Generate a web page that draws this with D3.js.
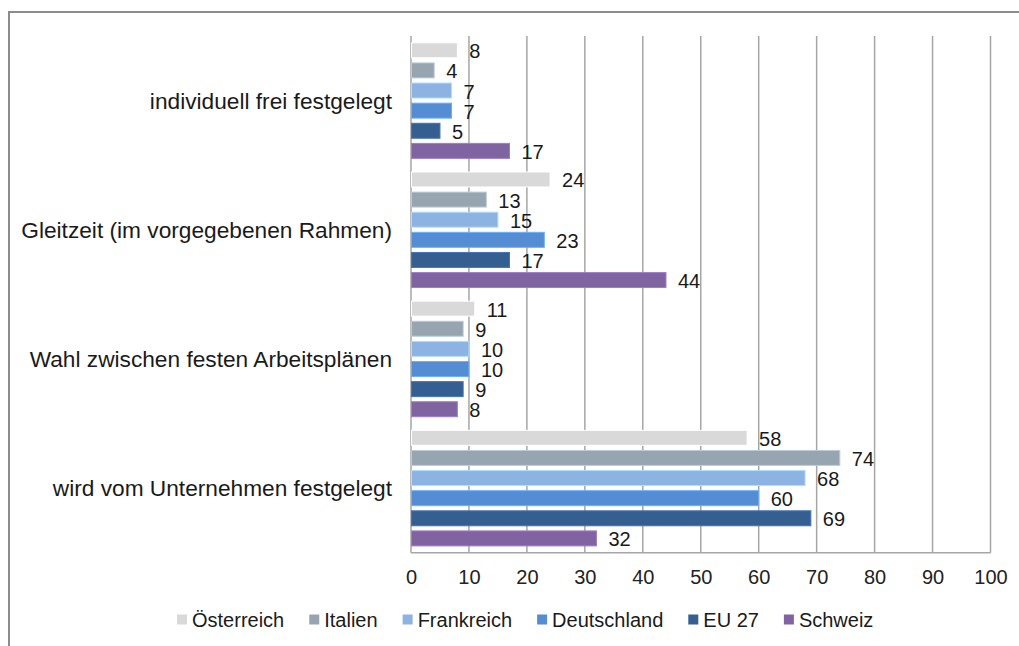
<!DOCTYPE html>
<html><head><meta charset="utf-8">
<script src="https://cdn.jsdelivr.net/npm/d3@7"></script>
<style>body{margin:0;background:#fff}svg{display:block;font-family:"Liberation Sans",Arial,sans-serif}</style>
</head><body>
<svg id="c" width="1019" height="646"></svg>
<script>
const categories = ["individuell frei festgelegt","Gleitzeit (im vorgegebenen Rahmen)","Wahl zwischen festen Arbeitsplänen","wird vom Unternehmen festgelegt"];
const seriesNames = ["Österreich","Italien","Frankreich","Deutschland","EU 27","Schweiz"];
const seriesColors = ["#d9d9d9","#97a5b1","#8db3e2","#548dd4","#365f91","#8064a2"];
const oesterreich = [8,24,11,58];
const italien = [4,13,9,74];
const frankreich = [7,15,10,68];
const deutschland = [7,23,10,60];
const eu27 = [5,17,9,69];
const schweiz = [17,44,8,32];
const xTicks = [0,10,20,30,40,50,60,70,80,90,100];
const seriesValues = [oesterreich,italien,frankreich,deutschland,eu27,schweiz];

const svg = d3.select("#c");
// frame
svg.append("rect").attr("x",9).attr("y",12).attr("width",1100).attr("height",700)
  .attr("fill","none").attr("stroke","#8c8c8c").attr("stroke-width",2);

const L=411, R=990.5, T=36, B=552.7;
const x = d3.scaleLinear().domain([0,100]).range([L,R]);
const y0 = d3.scaleBand().domain(categories).range([T,B]).paddingInner(0).paddingOuter(0);
const y1 = d3.scaleBand().domain(seriesNames).range([6.8, y0.bandwidth()-6.8]).paddingInner(0.255).paddingOuter(0);

// gridlines
svg.append("g").selectAll("line").data(xTicks).join("line")
  .attr("x1",d=>x(d)).attr("x2",d=>x(d)).attr("y1",T).attr("y2",B)
  .attr("stroke","#a6a6a6").attr("stroke-width",1.5);
// bottom axis line
svg.append("line").attr("x1",L).attr("x2",R).attr("y1",B).attr("y2",B).attr("stroke","#a6a6a6").attr("stroke-width",1.5);

// axis tick labels
const ax = d3.axisBottom(x).tickValues(xTicks).tickSize(0).tickPadding(0);
const gAx = svg.append("g").attr("transform",`translate(0,${B})`).call(ax);
gAx.select(".domain").remove();
gAx.selectAll("text").attr("font-size",20).attr("fill","#222").attr("font-family","Liberation Sans, Arial, sans-serif")
  .attr("dy",null).attr("y",31);

// bars
const groups = svg.append("g").selectAll("g").data(categories).join("g")
  .attr("transform",d=>`translate(0,${y0(d)})`);
groups.each(function(cat,ci){
  const g=d3.select(this);
  const rows = seriesNames.map((s,si)=>({s,si,v:seriesValues[si][ci]}));
  g.selectAll("rect").data(rows).join("rect")
    .attr("x",x(0)+0.5).attr("y",d=>y1(d.s)).attr("height",y1.bandwidth())
    .attr("width",d=>x(d.v)-x(0)-0.5)
    .attr("fill",d=>seriesColors[d.si])
    .attr("stroke",d=>d3.color(seriesColors[d.si]).brighter(0.6))
    .attr("stroke-width",1);
  g.selectAll("text").data(rows).join("text")
    .attr("x",d=>x(d.v)+12).attr("y",d=>y1(d.s)+y1.bandwidth()/2+1)
    .attr("dominant-baseline","central").attr("font-size",20).attr("fill","#1a1a1a")
    .text(d=>d.v);
});

// category labels
svg.append("g").selectAll("text").data(categories).join("text")
  .attr("x",392).attr("y",d=>y0(d)+y0.bandwidth()/2)
  .attr("text-anchor","end").attr("dominant-baseline","central")
  .attr("font-size",22.7).attr("fill","#1a1a1a").text(d=>d);

// legend
const leg = svg.append("g");
let lx = 177;
seriesNames.forEach((s,i)=>{
  leg.append("rect").attr("x",lx).attr("y",614.5).attr("width",10).attr("height",10).attr("fill",seriesColors[i]);
  const t = leg.append("text").attr("x",lx+15).attr("y",620).attr("dominant-baseline","central")
    .attr("font-size",20).attr("fill","#1a1a1a").text(s);
  lx += 15 + t.node().getComputedTextLength() + 25;
});
</script>
</body></html>
